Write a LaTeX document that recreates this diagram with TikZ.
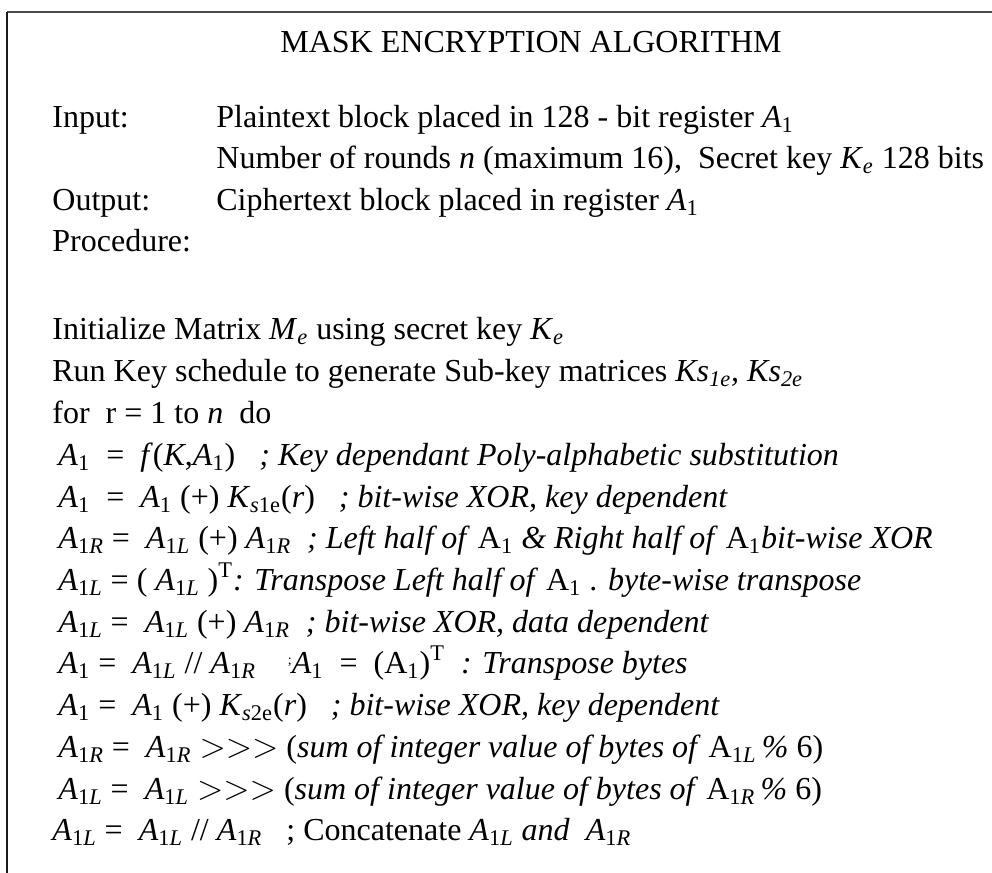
\documentclass[tikz,border=0pt]{standalone}
\usepackage{fontspec}
\setmainfont{Liberation Serif}
\newcommand\ssub[1]{\textsubscript{#1}}
\newcommand\Aone{\textit{A}\ssub{1}}
\newcommand\AL{\textit{A}\ssub{1\textit{L}}}
\newcommand\AR{\textit{A}\ssub{1\textit{R}}}
\newcommand\uAone{A\ssub{1}}
\begin{document}
\begin{tikzpicture}[x=0.5pt,y=-0.5pt,
  txt/.style={anchor=base west,inner sep=0pt,font=\fontsize{16}{19}\selectfont},
  toprule/.style={line width=1pt,draw=black!70},
  siderule/.style={line width=1pt,draw=black!90}]
\useasboundingbox (0,0) rectangle (992,873);
% open frame: top rule and left rule
\coordinate (tl) at (7,12);
\coordinate (tr) at (992,12);
\coordinate (bl) at (7,873);
\draw[toprule] (tl) -- (tr);
\draw[siderule] (tl) -- (bl);
% heading
\node[txt] (title) at (280,52) {MASK ENCRYPTION ALGORITHM};
% header block
\node[txt] (inlab) at (52,127) {Input:};
\node[txt] (in1) at (216,127) {Plaintext block placed in 128 - bit register \Aone};
\node[txt] (in2) at (216,168) {Number of rounds \textit{n} (maximum 16),\ \ Secret key \textit{K}\ssub{\textit{e}} 128 bits};
\node[txt] (outlab) at (52,210) {Output:};
\node[txt] (out1) at (216,210) {Ciphertext block placed in register \Aone};
\node[txt] (proc) at (52,251) {Procedure:};
% procedure body
\node[txt] (l1) at (52,339) {Initialize Matrix \textit{M}\ssub{\textit{e}} using secret key \textit{K}\ssub{\textit{e}}};
\node[txt] (l2) at (52,381) {Run Key schedule to generate Sub-key matrices \textit{Ks}\ssub{\textit{1e}}\textit{, Ks}\ssub{\textit{2e}}};
\node[txt] (l3) at (52,423) {for\ \ r = 1 to \textit{n}\ \ do};
\node[txt] (l4) at (58,465) {\Aone\ \ =\ \ \textit{f}(\textit{K},\Aone)\ \ \ \textit{; Key dependant Poly-alphabetic substitution}};
\node[txt] (l5) at (58,507) {\Aone\ \ =\ \ \Aone\ (+) \textit{K}\ssub{\textit{s}1e}(\textit{r})\ \ \ \textit{; bit-wise XOR, key dependent}};
\node[txt] (l6) at (58,548) {\AR\ =\ \ \AL\ (+) \AR\ \ \textit{; Left half of} \uAone\ \textit{\& Right half of} \uAone\textit{bit-wise XOR}};
\node[txt] (l7) at (58,590) {\AL\ = ( \AL\ )\textsuperscript{T}\textit{: Transpose Left half of} \uAone\ . \textit{byte-wise transpose}};
\node[txt] (l8) at (58,632) {\AL\ =\ \ \AL\ (+) \AR\ \ \textit{; bit-wise XOR, data dependent}};
\node[txt] (l9) at (58,673) {\Aone\ =\ \ \AL\ // \AR\ \ \ \ \raisebox{0.6ex}{\scriptsize;}\Aone\ \ =\ \ (\uAone)\textsuperscript{T}\ \ \textit{: Transpose bytes}};
\node[txt] (l10) at (58,715) {\Aone\ =\ \ \Aone\ (+) \textit{K}\ssub{\textit{s}2e}(\textit{r})\ \ \ \textit{; bit-wise XOR, key dependent}};
\node[txt] (l11) at (58,757) {\AR\ =\ \ \AR\ $>$$>$$>$ (\textit{sum of integer value of bytes of} A\ssub{1\textit{L}}\,\textit{\%} 6)};
\node[txt] (l12) at (58,799) {\AL\ =\ \ \AL\ $>$$>$$>$ (\textit{sum of integer value of bytes of} A\ssub{1\textit{R}}\,\textit{\%} 6)};
\node[txt] (l13) at (52,840) {\AL\ =\ \ \AL\ // \AR\ \ \ ; Concatenate \AL\ \textit{and}\ \ \AR};
\end{tikzpicture}
\end{document}
